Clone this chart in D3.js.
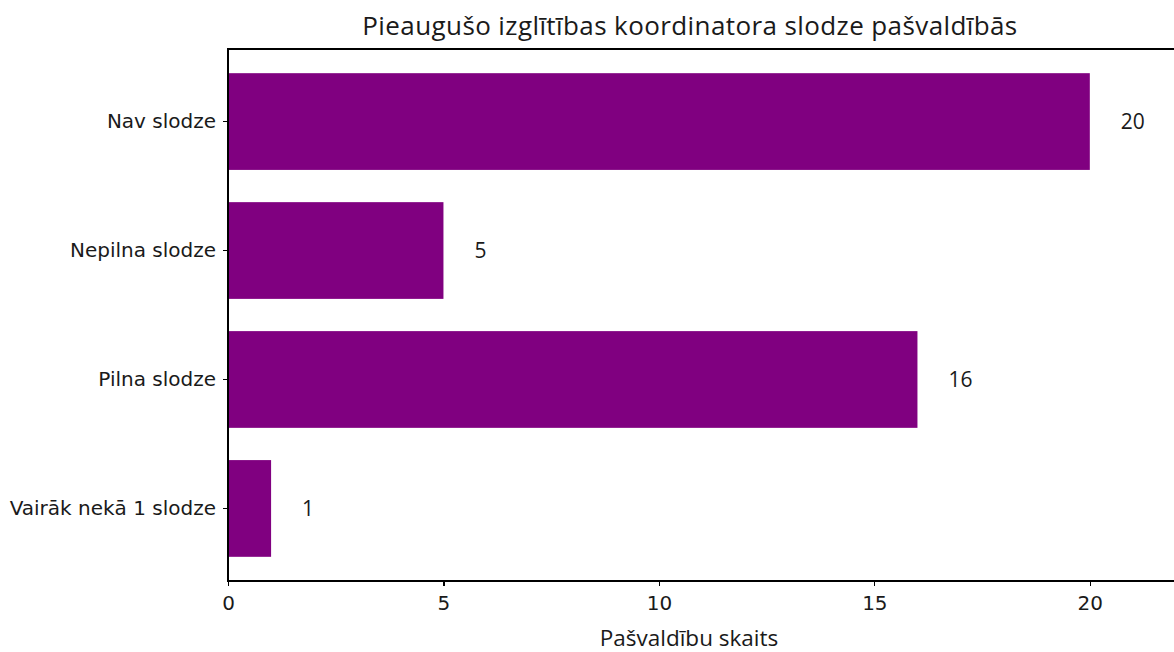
<!DOCTYPE html>
<html>
<meta charset="utf-8">
<style>
body {
  margin: 0;
  background: #fff;
  font-family: "DejaVu Sans", sans-serif;
}
svg { display: block; }
.axis path, .axis line {
  fill: none;
  stroke: #000;
  stroke-width: 1.1;
  shape-rendering: crispEdges;
}
.axis text {
  font-family: "DejaVu Sans", sans-serif;
  font-size: 20px;
  fill: #1a1a1a;
}
.bar { fill: #800080; }
.val, .title, .xlabel {
  font-family: "Open Sans", sans-serif;
  fill: #1a1a1a;
}
</style>
<body>
<script src="https://d3js.org/d3.v7.min.js"></script>
<script>
var categories = ["Nav slodze", "Nepilna slodze", "Pilna slodze", "Vairāk nekā 1 slodze"];
var counts = [20, 5, 16, 1];
var xTicks = [0, 5, 10, 15, 20];
var chartTitle = "Pieaugušo izglītības koordinatora slodze pašvaldībās";
var xTitle = "Pašvaldību skaits";

var W = 1174, H = 652;
var margin = {top: 49, right: 0, bottom: 71, left: 228};
var plotW = 1176 - margin.left, plotH = H - margin.top - margin.bottom;

var data = categories.map(function(c, i) { return {name: c, value: counts[i]}; });

var x = d3.scaleLinear().domain([0, 22]).range([0, plotW]);
var y = d3.scaleBand().domain(categories).range([0, plotH])
  .paddingInner(0.25).paddingOuter(0.1875);

var svg = d3.select("body").append("svg")
  .attr("width", W)
  .attr("height", H);

var g = svg.append("g")
  .attr("transform", "translate(" + margin.left + "," + margin.top + ")");

g.selectAll(".bar")
  .data(data)
  .enter().append("rect")
  .attr("class", "bar")
  .attr("x", x(0))
  .attr("y", function(d) { return y(d.name); })
  .attr("width", function(d) { return x(d.value) - x(0); })
  .attr("height", y.bandwidth());

g.selectAll(".val")
  .data(data)
  .enter().append("text")
  .attr("class", "val")
  .attr("x", function(d) { return x(d.value + 0.72); })
  .attr("y", function(d) { return y(d.name) + y.bandwidth() / 2; })
  .attr("dy", "0.36em")
  .attr("font-size", "21px")
  .text(function(d) { return d.value; });

// frame
g.append("rect")
  .attr("x", 0).attr("y", 0)
  .attr("width", plotW).attr("height", plotH)
  .attr("fill", "none")
  .attr("stroke", "#000")
  .attr("stroke-width", 1.1)
  .attr("shape-rendering", "crispEdges");

var xAxis = g.append("g")
  .attr("class", "axis")
  .attr("transform", "translate(0," + plotH + ")")
  .call(d3.axisBottom(x).tickValues(xTicks).tickSize(5).tickPadding(10).tickSizeOuter(0));
xAxis.select(".domain").remove();

var yAxis = g.append("g")
  .attr("class", "axis")
  .call(d3.axisLeft(y).tickSize(5).tickPadding(7).tickSizeOuter(0));
yAxis.select(".domain").remove();

svg.append("text")
  .attr("class", "title")
  .attr("x", 690)
  .attr("y", 35)
  .attr("text-anchor", "middle")
  .attr("font-size", "26px")
  .attr("letter-spacing", "0.4px")
  .text(chartTitle);

svg.append("text")
  .attr("class", "xlabel")
  .attr("x", 689)
  .attr("y", 646)
  .attr("text-anchor", "middle")
  .attr("font-size", "22.5px")
  .text(xTitle);
</script>
</body>
</html>
